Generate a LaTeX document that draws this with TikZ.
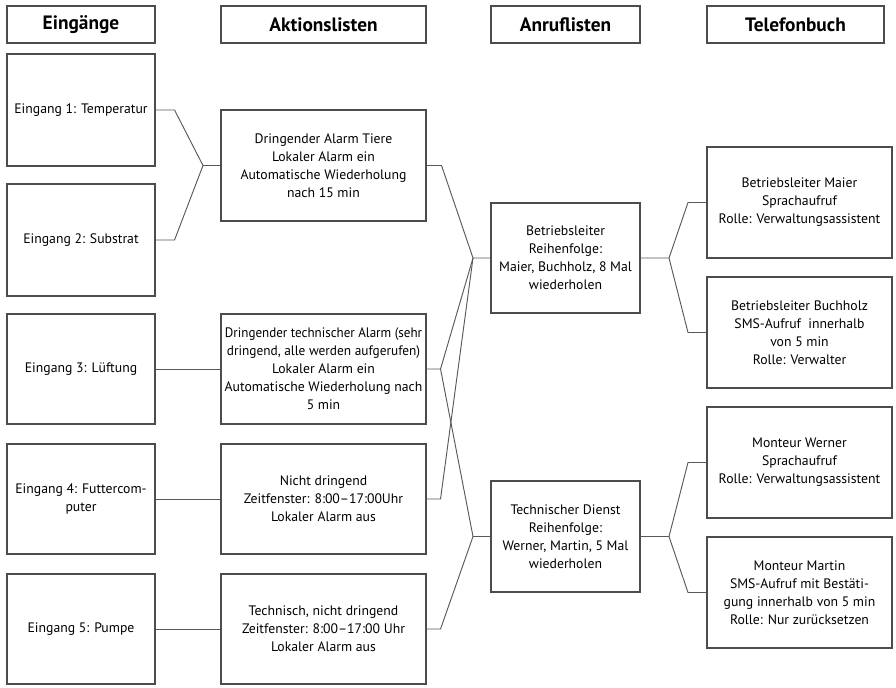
\documentclass[tikz,border=0pt]{standalone}
\usepackage{fontspec}
\setmainfont{PT Sans}
\begin{document}
\begin{tikzpicture}[x=0.75pt,y=-0.75pt,
  box/.style 2 args={draw=black!70, line width=0.8pt, inner sep=0pt, align=center,
    minimum width=#1*0.75pt, minimum height=#2*0.75pt,
    font=\fontsize{10.3}{13.5}\selectfont},
  head/.style 2 args={box={#1}{#2}, font=\fontsize{14.5}{16}\selectfont\bfseries},
  conn/.style={draw=black!65, line width=0.7pt}]
\useasboundingbox[fill=white] (0,0) rectangle (896,687);
% headers
\node[head={148}{37}] (H1) at (81,24.5) {Eingänge};
\node[head={205}{37}] (H2) at (323.5,24.5) {Aktionslisten};
\node[head={149}{37}] (H3) at (565.5,24.5) {Anruflisten};
\node[head={177}{37}] (H4) at (795.5,24.5) {Telefonbuch};
% inputs
\node[box={148}{112}] (E1) at (81,110) {Eingang 1: Temperatur};
\node[box={148}{112}] (E2) at (81,240) {Eingang 2: Substrat};
\node[box={148}{110}] (E3) at (81,369) {Eingang 3: Lüftung};
\node[box={148}{110}] (E4) at (81,499) {Eingang 4: Futtercom-\\puter};
\node[box={148}{110}] (E5) at (81,629) {Eingang 5: Pumpe};
% action lists
\node[box={205}{111}] (A1) at (323.5,165.5) {Dringender Alarm Tiere\\Lokaler Alarm ein\\Automatische Wiederholung\\nach 15 min};
\node[box={205}{110}] (A2) at (323.5,369) {\scalebox{0.95}[1]{Dringender technischer Alarm (sehr}\\\scalebox{0.97}[1]{dringend, alle werden aufgerufen)}\\Lokaler Alarm ein\\Automatische Wiederholung nach\\5 min};
\node[box={205}{110}] (A3) at (323.5,499) {Nicht dringend\\Zeitfenster: 8:00–17:00Uhr\\Lokaler Alarm aus};
\node[box={205}{110}] (A4) at (323.5,629) {Technisch, nicht dringend\\Zeitfenster: 8:00–17:00 Uhr\\Lokaler Alarm aus};
% call lists
\node[box={149}{110}] (B1) at (565.5,258) {Betriebsleiter\\Reihenfolge:\\Maier, Buchholz, 8 Mal\\wiederholen};
\node[box={149}{111}] (B2) at (565.5,536.5) {Technischer Dienst\\Reihenfolge:\\Werner, Martin, 5 Mal\\wiederholen};
% phone book
\node[box={185}{111}] (T1) at (799.5,202.5) {Betriebsleiter Maier\\Sprachaufruf\\Rolle: Verwaltungsassistent};
\node[box={185}{111}] (T2) at (799.5,332.5) {Betriebsleiter Buchholz\\SMS-Aufruf \ innerhalb\\von 5 min\\Rolle: Verwalter};
\node[box={185}{111}] (T3) at (799.5,462.5) {Monteur Werner\\Sprachaufruf\\Rolle: Verwaltungsassistent};
\node[box={185}{111}] (T4) at (799.5,592.5) {Monteur Martin\\SMS-Aufruf mit Bestäti-\\gung innerhalb von 5 min\\Rolle: Nur zurücksetzen};
% junctions
\coordinate (jA) at (203,165.5);
\coordinate (jB1) at (473,258);
\coordinate (jB2) at (473,536.5);
\coordinate (jT1) at (669,258);
\coordinate (jT2) at (669,536.5);
% connectors
\draw[conn] (E1.east) -- ++(19,0) -- (jA) -- (A1.west);
\draw[conn] (E2.east) -- ++(19,0) -- (jA);
\draw[conn] (E3.east) -- (A2.west);
\draw[conn] (E4.east) -- (A3.west);
\draw[conn] (E5.east) -- (A4.west);
\draw[conn] (A1.east) -- ++(15,0) -- (jB1) -- (B1.west);
\draw[conn] (A2.east) -- ++(14,0) -- (jB1);
\draw[conn] (A2.east) ++(14,0) -- (jB2);
\draw[conn] (A3.east) -- ++(14,0) -- (jB1);
\draw[conn] (A4.east) -- ++(14,0) -- (jB2) -- (B2.west);
\draw[conn] (B1.east) -- (jT1) -- ++(19,-55.5) -- (T1.west);
\draw[conn] (jT1) -- ++(19,74.5) -- (T2.west);
\draw[conn] (B2.east) -- (jT2) -- ++(19,-74) -- (T3.west);
\draw[conn] (jT2) -- ++(19,56) -- (T4.west);
\end{tikzpicture}
\end{document}
